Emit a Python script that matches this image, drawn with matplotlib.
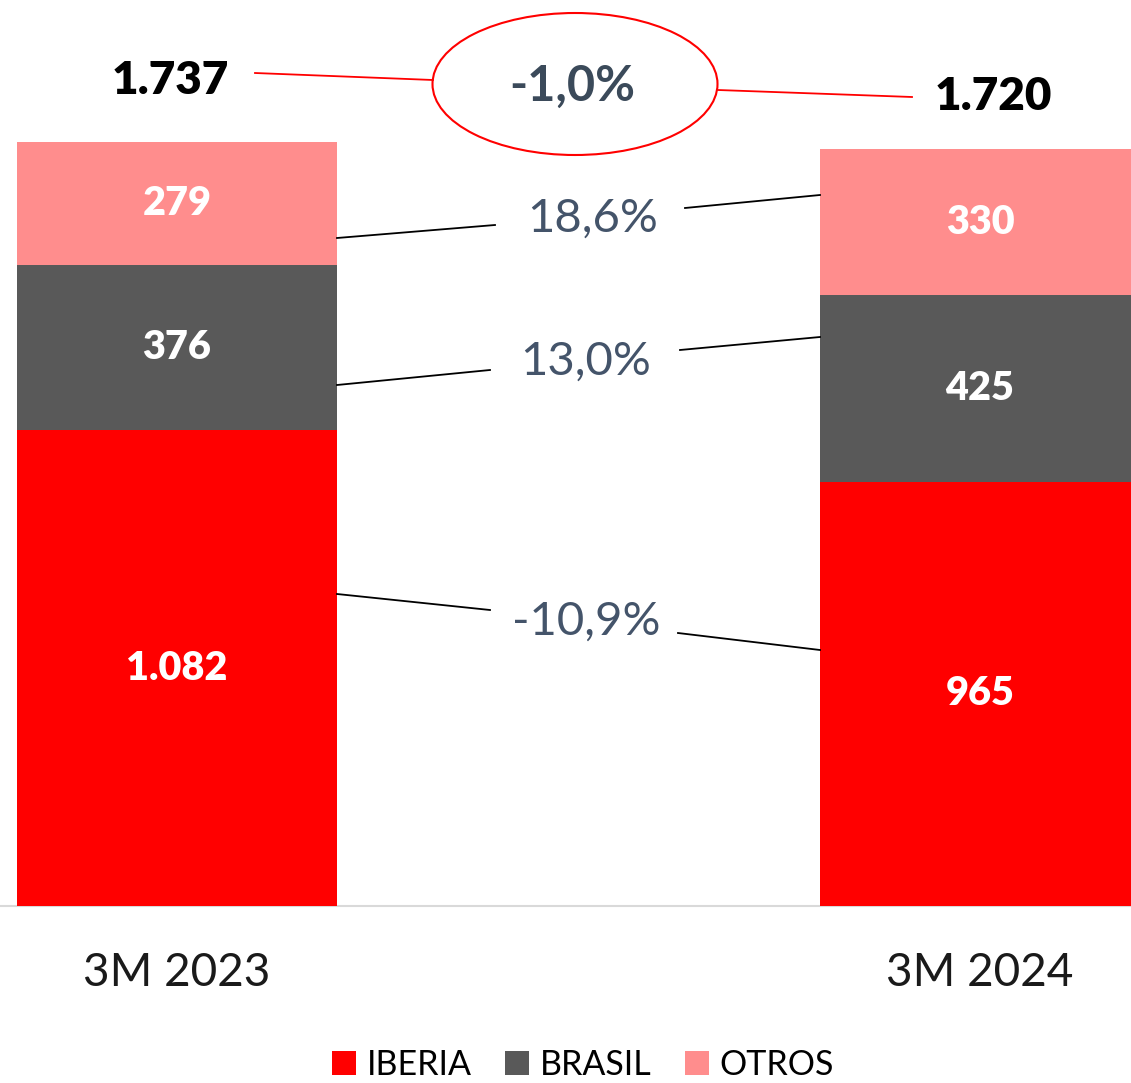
import matplotlib
matplotlib.use("Agg")
import matplotlib.pyplot as plt
from matplotlib.patches import Ellipse, Patch

categories = ["3M 2023", "3M 2024"]
iberia = [1082, 965]
brasil = [376, 425]
otros = [279, 330]
totals = ["1.737", "1.720"]
seg_labels = {"IBERIA": ["1.082", "965"], "BRASIL": ["376", "425"], "OTROS": ["279", "330"]}
changes = ["-10,9%", "13,0%", "18,6%"]
total_change = "-1,0%"
series_names = ["IBERIA", "BRASIL", "OTROS"]
colors = ["#ff0000", "#595959", "#ff8d8d"]

plt.rcParams['font.family'] = ['Lato', 'DejaVu Sans']

W, H = 1131, 1083
fig = plt.figure(figsize=(W/100, H/100), dpi=100)
base_px = 906
ax = fig.add_axes([0, (H-base_px)/H, 1, base_px/H])
scale = 764/1737.0  # px per unit
ax.set_ylim(0, base_px/scale)
ax.set_xlim(-177/803, (W-177)/803)
ax.axis('off')

def P(px, py):
    return ((px-177)/803, (base_px-py)/scale)

x = [0, 1]
width = 320/803
bottom = [0, 0]
for name, vals, c in zip(series_names, [iberia, brasil, otros], colors):
    bars = ax.bar(x, vals, width, bottom=bottom, color=c, zorder=2)
    for i, b in enumerate(bars):
        ax.text(x[i], bottom[i] + vals[i]/2, seg_labels[name][i], ha='center', va='center',
                color='white', fontsize=28.5, fontweight='heavy', zorder=3)
    bottom = [bottom[i] + vals[i] for i in range(2)]

# baseline
ax.axhline(0, color='#d9d9d9', lw=1.5, zorder=1, clip_on=False)

# totals
ax.text(*P(170, 80), totals[0], ha='center', va='center', fontsize=33, fontweight='heavy', color='black')
ax.text(*P(993, 97), totals[1], ha='center', va='center', fontsize=33, fontweight='heavy', color='black')

# ellipse
cx, cy = P(575, 84)
ew = 285/803
eh = 142/scale
ax.add_patch(Ellipse((cx, cy), ew, eh, fill=False, edgecolor='#ff0000', lw=1.5, zorder=3, clip_on=False))
ax.text(*P(572, 86), total_change, ha='center', va='center', fontsize=35, fontweight='bold', color='#3b4a5a')
for (a, b) in [((255, 73), (433, 80)), ((718, 90), (912, 97))]:
    x0, y0 = P(*a); x1, y1 = P(*b)
    ax.plot([x0, x1], [y0, y1], color='#ff0000', lw=1.3, zorder=3)

# change annotations
change_pos = [(586, 622), (586, 362), (593, 219)]
conn = [
    [((337, 594), (490, 610)), ((678, 633), (820, 650))],
    [((337, 385), (490, 370)), ((680, 350), (820, 337))],
    [((337, 238), (495, 225)), ((685, 208), (820, 195))],
]
for lab, pos, lines in zip(changes, change_pos, conn):
    ax.text(*P(*pos), lab, ha='center', va='center', fontsize=34, color='#44546a')
    for (a, b) in lines:
        x0, y0 = P(*a); x1, y1 = P(*b)
        ax.plot([x0, x1], [y0, y1], color='black', lw=1.3, zorder=3)

# category labels
for i, c in enumerate(categories):
    ax.text(x[i], (base_px-973)/scale, c, ha='center', va='center', fontsize=33, color='#1a1a1a', clip_on=False)

handles = [Patch(facecolor=c, edgecolor='none') for c in colors]
fig.legend(handles, series_names, loc='center', bbox_to_anchor=(583/W, 1-1065/H), ncol=3,
           frameon=False, fontsize=24.5, handlelength=0.7, handleheight=0.7, handletextpad=0.3,
           columnspacing=1.0, borderaxespad=0)

fig.savefig("out.png", dpi=100)
